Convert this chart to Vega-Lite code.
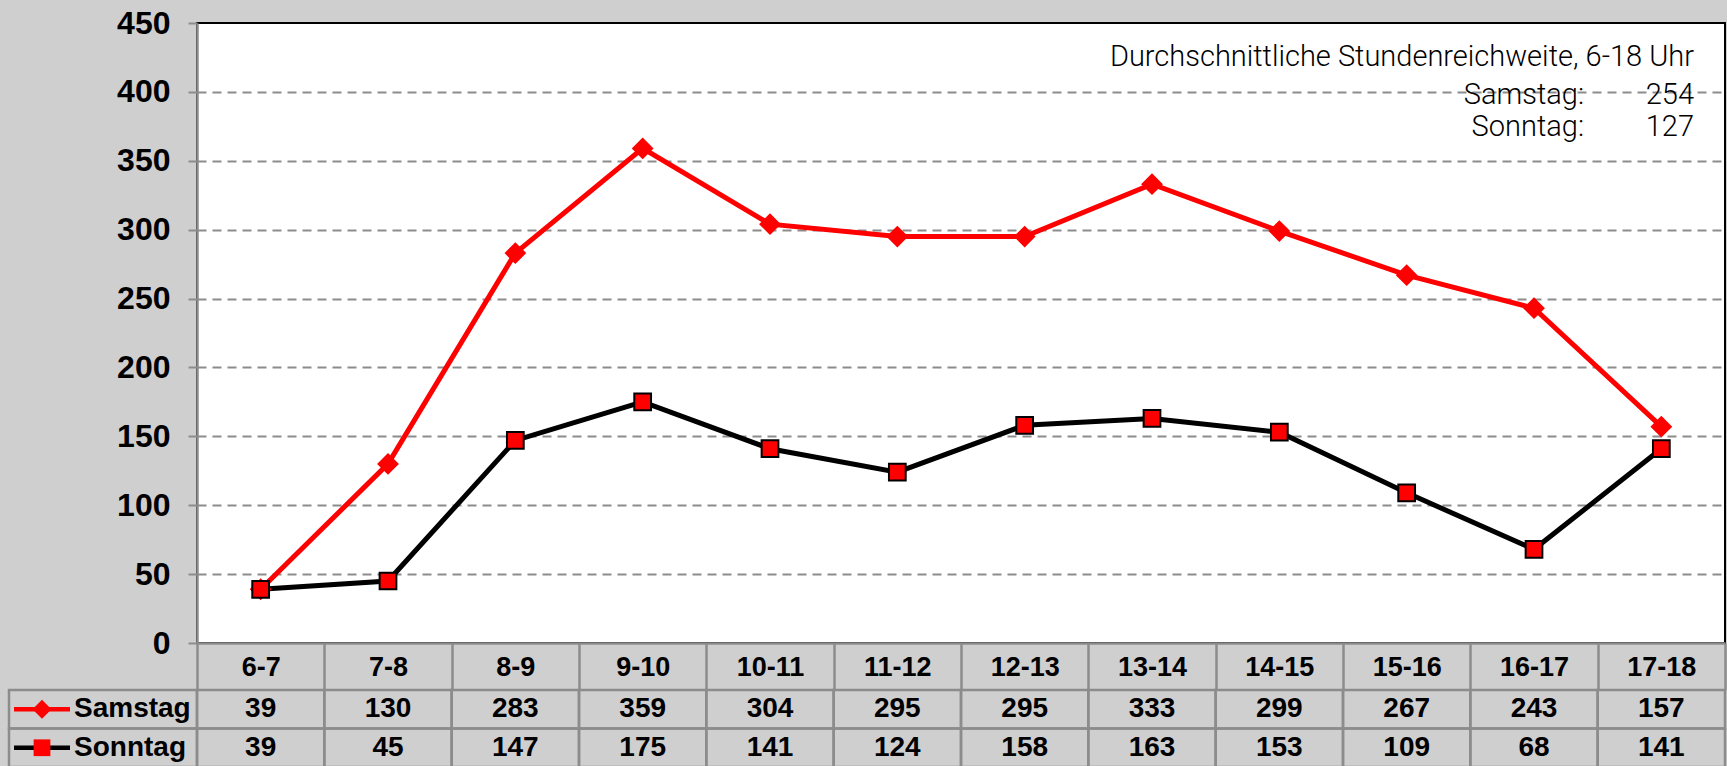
{
  "$schema": "https://vega.github.io/schema/vega-lite/v6.json",
  "background": "#cfcfcf",
  "padding": {"left": 5, "top": 6, "right": 2, "bottom": 0},
  "columns": 2,
  "spacing": 0,
  "bounds": "flush",
  "align": "each",
  "config": {
    "view": {"stroke": null},
    "text": {"font": "Liberation Sans", "color": "#000000"},
    "axis": {"labelFont": "Liberation Sans"}
  },
  "datasets": {
    "werte": [
      {"stunde": "6-7", "reihe": "Samstag", "wert": 39},
      {"stunde": "7-8", "reihe": "Samstag", "wert": 130},
      {"stunde": "8-9", "reihe": "Samstag", "wert": 283},
      {"stunde": "9-10", "reihe": "Samstag", "wert": 359},
      {"stunde": "10-11", "reihe": "Samstag", "wert": 304},
      {"stunde": "11-12", "reihe": "Samstag", "wert": 295},
      {"stunde": "12-13", "reihe": "Samstag", "wert": 295},
      {"stunde": "13-14", "reihe": "Samstag", "wert": 333},
      {"stunde": "14-15", "reihe": "Samstag", "wert": 299},
      {"stunde": "15-16", "reihe": "Samstag", "wert": 267},
      {"stunde": "16-17", "reihe": "Samstag", "wert": 243},
      {"stunde": "17-18", "reihe": "Samstag", "wert": 157},
      {"stunde": "6-7", "reihe": "Sonntag", "wert": 39},
      {"stunde": "7-8", "reihe": "Sonntag", "wert": 45},
      {"stunde": "8-9", "reihe": "Sonntag", "wert": 147},
      {"stunde": "9-10", "reihe": "Sonntag", "wert": 175},
      {"stunde": "10-11", "reihe": "Sonntag", "wert": 141},
      {"stunde": "11-12", "reihe": "Sonntag", "wert": 124},
      {"stunde": "12-13", "reihe": "Sonntag", "wert": 158},
      {"stunde": "13-14", "reihe": "Sonntag", "wert": 163},
      {"stunde": "14-15", "reihe": "Sonntag", "wert": 153},
      {"stunde": "15-16", "reihe": "Sonntag", "wert": 109},
      {"stunde": "16-17", "reihe": "Sonntag", "wert": 68},
      {"stunde": "17-18", "reihe": "Sonntag", "wert": 141}
    ],
    "reihen": [{"reihe": "Samstag"}, {"reihe": "Sonntag"}],
    "summary": [
      {"tag": "Samstag:", "wert": 254},
      {"tag": "Sonntag:", "wert": 127}
    ],
    "titel": [{"text": "Durchschnittliche Stundenreichweite, 6-18 Uhr"}]
  },
  "concat": [
    {
      "width": 188,
      "height": 620,
      "data": {"values": []},
      "mark": "text",
      "encoding": {}
    },
    {
      "width": 1528,
      "height": 620,
      "view": {"fill": "#ffffff", "stroke": "#000000", "strokeWidth": 2},
      "layer": [
        {
          "data": {"name": "werte"},
          "mark": {"type": "line", "strokeWidth": 5},
          "encoding": {
            "x": {
              "field": "stunde", "type": "ordinal", "sort": null, "bandPosition": 0.5,
              "scale": {"type": "band", "domain": ["6-7","7-8","8-9","9-10","10-11","11-12","12-13","13-14","14-15","15-16","16-17","17-18"], "paddingInner": 0, "paddingOuter": 0},
              "axis": {
                "title": null, "tickBand": "extent", "tickSize": 47, "tickColor": "#8c8c8c", "tickWidth": 2.5,
                "domainColor": "#8c8c8c", "domainWidth": 2.5,
                "labelFontSize": 27, "labelFontWeight": "bold", "labelColor": "#000000",
                "labelPadding": -23, "labelBaseline": "middle", "labelAngle": 0
              }
            },
            "y": {
              "field": "wert", "type": "quantitative",
              "scale": {"domain": [0, 450], "nice": false},
              "axis": {
                "title": null, "values": [0,50,100,150,200,250,300,350,400,450],
                "grid": true, "gridDash": [9, 6], "gridColor": "#8c8c8c", "gridWidth": 2,
                "gridOpacity": {"condition": {"test": "datum.value <= 0 || datum.value >= 450", "value": 0}, "value": 1},
                "tickSize": 9, "tickColor": "#8c8c8c", "tickWidth": 2,
                "domainColor": "#8c8c8c", "domainWidth": 2.5,
                "labelFontSize": 32, "labelFontWeight": "bold", "labelColor": "#000000", "labelPadding": 18
              }
            },
            "color": {"field": "reihe", "type": "nominal", "scale": {"domain": ["Samstag", "Sonntag"], "range": ["#ff0000", "#000000"]}, "legend": null}
          }
        },
        {
          "data": {"name": "werte"},
          "mark": {"type": "point", "filled": true, "fill": "#ff0000", "strokeWidth": 2, "opacity": 1},
          "encoding": {
            "x": {"field": "stunde", "type": "ordinal", "sort": null, "bandPosition": 0.5},
            "y": {"field": "wert", "type": "quantitative"},
            "shape": {"field": "reihe", "type": "nominal", "scale": {"domain": ["Samstag", "Sonntag"], "range": ["diamond", "square"]}, "legend": null},
            "size": {"field": "reihe", "type": "ordinal", "scale": {"domain": ["Samstag", "Sonntag"], "range": [360, 280]}, "legend": null},
            "stroke": {"field": "reihe", "type": "nominal", "scale": {"domain": ["Samstag", "Sonntag"], "range": ["#ff0000", "#000000"]}, "legend": null}
          }
        },
        {
          "data": {"name": "titel"},
          "mark": {"type": "text", "align": "right", "baseline": "alphabetic", "dx": -31, "font": "Roboto", "fontWeight": 300, "fontSize": 29},
          "encoding": {
            "x": {"datum": "17-18", "bandPosition": 1},
            "y": {"datum": 419},
            "text": {"field": "text"}
          }
        },
        {
          "data": {"name": "summary"},
          "transform": [{"filter": "datum.tag === 'Samstag:'"}],
          "mark": {"type": "text", "align": "right", "baseline": "alphabetic", "dx": -141, "font": "Roboto", "fontWeight": 300, "fontSize": 29},
          "encoding": {"x": {"datum": "17-18", "bandPosition": 1}, "y": {"datum": 391}, "text": {"field": "tag"}}
        },
        {
          "data": {"name": "summary"},
          "transform": [{"filter": "datum.tag === 'Samstag:'"}],
          "mark": {"type": "text", "align": "right", "baseline": "alphabetic", "dx": -31, "font": "Roboto", "fontWeight": 300, "fontSize": 29},
          "encoding": {"x": {"datum": "17-18", "bandPosition": 1}, "y": {"datum": 391}, "text": {"field": "wert", "type": "nominal"}}
        },
        {
          "data": {"name": "summary"},
          "transform": [{"filter": "datum.tag === 'Sonntag:'"}],
          "mark": {"type": "text", "align": "right", "baseline": "alphabetic", "dx": -141, "font": "Roboto", "fontWeight": 300, "fontSize": 29},
          "encoding": {"x": {"datum": "17-18", "bandPosition": 1}, "y": {"datum": 368}, "text": {"field": "tag"}}
        },
        {
          "data": {"name": "summary"},
          "transform": [{"filter": "datum.tag === 'Sonntag:'"}],
          "mark": {"type": "text", "align": "right", "baseline": "alphabetic", "dx": -31, "font": "Roboto", "fontWeight": 300, "fontSize": 29},
          "encoding": {"x": {"datum": "17-18", "bandPosition": 1}, "y": {"datum": 368}, "text": {"field": "wert", "type": "nominal"}}
        }
      ]
    },
    {
      "width": 188,
      "height": 124,
      "data": {"name": "reihen"},
      "encoding": {
        "y": {"field": "reihe", "type": "nominal", "scale": {"domain": ["Samstag", "Sonntag"], "range": [47, 124], "paddingInner": 0, "paddingOuter": 0}, "axis": null}
      },
      "layer": [
        {"mark": {"type": "rect", "fill": "transparent", "stroke": "#8c8c8c", "strokeWidth": 2.5}},
        {
          "mark": {"type": "point", "shape": "M-1,0L1,0", "size": 3136, "strokeWidth": 4.5, "filled": false, "xOffset": -61, "opacity": 1},
          "encoding": {"stroke": {"field": "reihe", "type": "nominal", "scale": {"domain": ["Samstag", "Sonntag"], "range": ["#ff0000", "#000000"]}, "legend": null}}
        },
        {
          "mark": {"type": "point", "filled": true, "fill": "#ff0000", "strokeWidth": 1.5, "xOffset": -61, "opacity": 1},
          "encoding": {
            "shape": {"field": "reihe", "type": "nominal", "scale": {"domain": ["Samstag", "Sonntag"], "range": ["diamond", "square"]}, "legend": null},
            "size": {"field": "reihe", "type": "ordinal", "scale": {"domain": ["Samstag", "Sonntag"], "range": [260, 190]}, "legend": null},
            "strokeWidth": {"value": 1.5}
          }
        },
        {
          "mark": {"type": "text", "align": "left", "baseline": "middle", "dx": -29, "fontSize": 28, "fontWeight": "bold"},
          "encoding": {"text": {"field": "reihe"}}
        }
      ]
    },
    {
      "width": 1528,
      "height": 124,
      "data": {"name": "werte"},
      "encoding": {
        "x": {"field": "stunde", "type": "ordinal", "sort": null, "scale": {"type": "band", "domain": ["6-7","7-8","8-9","9-10","10-11","11-12","12-13","13-14","14-15","15-16","16-17","17-18"], "paddingInner": 0, "paddingOuter": 0}, "axis": null},
        "y": {"field": "reihe", "type": "nominal", "scale": {"domain": ["Samstag", "Sonntag"], "range": [47, 124], "paddingInner": 0, "paddingOuter": 0}, "axis": null}
      },
      "layer": [
        {"mark": {"type": "rect", "fill": "transparent", "stroke": "#8c8c8c", "strokeWidth": 2.5}},
        {
          "mark": {"type": "text", "align": "center", "baseline": "middle", "fontSize": 28, "fontWeight": "bold"},
          "encoding": {"text": {"field": "wert", "type": "nominal"}}
        }
      ]
    }
  ]
}
